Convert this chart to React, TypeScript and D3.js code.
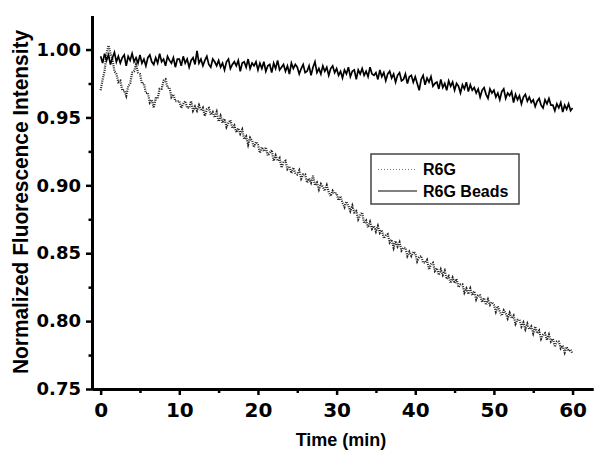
import * as d3 from "d3";
import { useEffect, useRef } from "react";

const chartWidth = 595;
const chartHeight = 454;

// sampling interval of both traces, minutes
const timeStep = 0.25;

// R6G Beads trace (solid), one value every 0.25 min from 0 to 60
const beadsValues = [
  0.995, 0.990, 0.997, 0.992, 0.996, 0.989, 0.994, 0.998, 0.991, 0.995, 0.990, 0.994, 0.996, 0.988, 0.995, 0.992, 0.997, 0.991, 0.994, 0.990,
  0.996, 0.990, 0.993, 0.988, 0.994, 0.996, 0.991, 0.989, 0.994, 0.990, 0.997, 0.991, 0.993, 0.988, 0.995, 0.992, 0.990, 0.994, 0.987, 0.993,
  0.993, 0.988, 0.995, 0.990, 0.993, 0.987, 0.992, 0.994, 0.989, 0.999, 0.990, 0.993, 0.988, 0.992, 0.995, 0.989, 0.987, 0.993, 0.991, 0.988,
  0.992, 0.987, 0.990, 0.985, 0.991, 0.993, 0.986, 0.989, 0.991, 0.988, 0.992, 0.984, 0.990, 0.991, 0.987, 0.993, 0.986, 0.990, 0.988, 0.991,
  0.985, 0.990, 0.986, 0.991, 0.984, 0.988, 0.989, 0.983, 0.990, 0.986, 0.992, 0.985, 0.987, 0.989, 0.984, 0.988, 0.982, 0.990, 0.986, 0.989,
  0.987, 0.982, 0.986, 0.989, 0.983, 0.984, 0.988, 0.981, 0.987, 0.991, 0.983, 0.986, 0.982, 0.988, 0.984, 0.987, 0.981, 0.986, 0.988, 0.983,
  0.986, 0.981, 0.984, 0.979, 0.985, 0.982, 0.987, 0.980, 0.984, 0.985, 0.978, 0.985, 0.982, 0.986, 0.981, 0.984, 0.980, 0.987, 0.982, 0.981,
  0.983, 0.978, 0.985, 0.980, 0.983, 0.977, 0.982, 0.984, 0.979, 0.982, 0.976, 0.981, 0.983, 0.977, 0.978, 0.982, 0.975, 0.980, 0.981, 0.976,
  0.980, 0.975, 0.970, 0.978, 0.981, 0.974, 0.979, 0.976, 0.980, 0.973, 0.975, 0.976, 0.971, 0.978, 0.972, 0.975, 0.970, 0.977, 0.973, 0.976,
  0.970, 0.975, 0.973, 0.968, 0.974, 0.971, 0.976, 0.969, 0.974, 0.970, 0.972, 0.968, 0.971, 0.965, 0.970, 0.972, 0.967, 0.964, 0.971, 0.968,
  0.970, 0.965, 0.968, 0.963, 0.969, 0.971, 0.964, 0.968, 0.966, 0.969, 0.961, 0.967, 0.963, 0.966, 0.960, 0.965, 0.967, 0.962, 0.965, 0.961,
  0.963, 0.958, 0.962, 0.964, 0.959, 0.957, 0.963, 0.960, 0.964, 0.959, 0.959, 0.955, 0.960, 0.957, 0.961, 0.954, 0.959, 0.956, 0.960, 0.955,
  0.957,
];

// R6G trace (dotted), same sampling
const r6gValues = [
  0.970, 0.978, 0.984, 0.997, 1.003, 0.997, 0.993, 0.984, 0.982, 0.976, 0.977, 0.970, 0.970, 0.966, 0.973, 0.975, 0.983, 0.984, 0.989, 0.983,
  0.982, 0.975, 0.975, 0.968, 0.968, 0.961, 0.963, 0.957, 0.964, 0.964, 0.971, 0.971, 0.977, 0.978, 0.972, 0.972, 0.965, 0.967, 0.962, 0.962,
  0.962, 0.957, 0.960, 0.962, 0.957, 0.957, 0.962, 0.955, 0.958, 0.955, 0.959, 0.955, 0.957, 0.951, 0.956, 0.957, 0.952, 0.954, 0.950, 0.954,
  0.947, 0.951, 0.946, 0.949, 0.943, 0.946, 0.948, 0.942, 0.944, 0.939, 0.942, 0.938, 0.941, 0.934, 0.936, 0.930, 0.935, 0.933, 0.928, 0.932,
  0.930, 0.924, 0.928, 0.925, 0.928, 0.922, 0.924, 0.926, 0.918, 0.922, 0.918, 0.920, 0.913, 0.917, 0.918, 0.912, 0.914, 0.909, 0.913, 0.909,
  0.908, 0.911, 0.905, 0.908, 0.908, 0.902, 0.905, 0.902, 0.907, 0.900, 0.902, 0.897, 0.901, 0.899, 0.896, 0.900, 0.895, 0.892, 0.896, 0.894,
  0.894, 0.889, 0.892, 0.887, 0.884, 0.888, 0.885, 0.881, 0.885, 0.880, 0.881, 0.875, 0.878, 0.880, 0.872, 0.874, 0.869, 0.873, 0.868, 0.870,
  0.866, 0.870, 0.865, 0.867, 0.861, 0.863, 0.864, 0.858, 0.860, 0.854, 0.859, 0.855, 0.858, 0.852, 0.854, 0.854, 0.848, 0.851, 0.848, 0.851,
  0.850, 0.844, 0.847, 0.848, 0.843, 0.843, 0.845, 0.838, 0.842, 0.843, 0.837, 0.839, 0.834, 0.838, 0.834, 0.837, 0.831, 0.833, 0.828, 0.832,
  0.828, 0.831, 0.825, 0.827, 0.827, 0.821, 0.824, 0.820, 0.824, 0.819, 0.822, 0.816, 0.819, 0.819, 0.814, 0.817, 0.812, 0.816, 0.812, 0.814,
  0.812, 0.807, 0.811, 0.807, 0.804, 0.808, 0.806, 0.802, 0.806, 0.802, 0.804, 0.798, 0.801, 0.801, 0.796, 0.799, 0.794, 0.798, 0.794, 0.796,
  0.791, 0.796, 0.791, 0.793, 0.787, 0.790, 0.791, 0.786, 0.790, 0.785, 0.787, 0.781, 0.785, 0.785, 0.780, 0.782, 0.777, 0.781, 0.778, 0.779,
  0.776,
];

const xTicks = [0, 10, 20, 30, 40, 50, 60];
const xMinorTicks = [5, 15, 25, 35, 45, 55];
const yTicks = [0.75, 0.8, 0.85, 0.9, 0.95, 1.0];
const yMinorTicks = [0.775, 0.825, 0.875, 0.925, 0.975];

const seriesNames = ["R6G", "R6G Beads"];

export default function App() {
  const svgRef = useRef<SVGSVGElement | null>(null);

  useEffect(() => {
    const svg = d3.select(svgRef.current);
    svg.selectAll("*").remove();

    const x = d3.scaleLinear().domain([-1.1, 62.6]).range([92, 593]);
    const y = d3.scaleLinear().domain([0.75, 1.025]).range([389, 15.6]);

    const line = d3
      .line<number>()
      .x((_, i) => x(i * timeStep))
      .y((d) => y(d));

    // data traces
    svg
      .append("path")
      .datum(r6gValues)
      .attr("d", line)
      .attr("fill", "none")
      .attr("stroke", "#222")
      .attr("stroke-width", 2.2)
      .attr("stroke-dasharray", "1,1.2");

    svg
      .append("path")
      .datum(beadsValues)
      .attr("d", line)
      .attr("fill", "none")
      .attr("stroke", "#000")
      .attr("stroke-width", 1.7);

    // axes
    const styleAxis = (g, fontSize) => {
      g.select(".domain").attr("stroke-width", 3).attr("stroke", "#000");
      g.selectAll(".tick line").attr("stroke-width", 2.5).attr("stroke", "#000");
      g.selectAll(".tick text")
        .attr("fill", "#000")
        .style("font-family", "'DejaVu Sans', sans-serif")
        .style("font-weight", "700")
        .style("font-size", `${fontSize}px`);
    };

    svg
      .append("g")
      .attr("transform", `translate(0, ${y(0.75)})`)
      .call(d3.axisBottom(x).tickValues(xMinorTicks).tickSize(4).tickSizeOuter(0).tickFormat(() => ""))
      .call((g) => styleAxis(g, 20));

    svg
      .append("g")
      .attr("transform", `translate(0, ${y(0.75)})`)
      .call(
        d3
          .axisBottom(x)
          .tickValues(xTicks)
          .tickSize(6)
          .tickPadding(8)
          .tickSizeOuter(0)
          .tickFormat(d3.format("d")),
      )
      .call((g) => styleAxis(g, 20));

    svg
      .append("g")
      .attr("transform", `translate(${x(-1.1)}, 0)`)
      .call(d3.axisLeft(y).tickValues(yMinorTicks).tickSize(3.5).tickSizeOuter(0).tickFormat(() => ""))
      .call((g) => styleAxis(g, 18));

    svg
      .append("g")
      .attr("transform", `translate(${x(-1.1)}, 0)`)
      .call(
        d3
          .axisLeft(y)
          .tickValues(yTicks)
          .tickSize(6)
          .tickPadding(5)
          .tickSizeOuter(0)
          .tickFormat(d3.format(".2f")),
      )
      .call((g) => styleAxis(g, 18));

    // axis titles
    svg
      .append("text")
      .attr("x", 341)
      .attr("y", 446)
      .attr("text-anchor", "middle")
      .style("font-family", "'Liberation Sans', Arial, sans-serif")
      .style("font-weight", "700")
      .style("font-size", "18px")
      .text("Time (min)");

    svg
      .append("text")
      .attr("transform", "translate(28, 202) rotate(-90)")
      .attr("text-anchor", "middle")
      .attr("textLength", 344)
      .attr("lengthAdjust", "spacingAndGlyphs")
      .style("font-family", "'Liberation Sans', Arial, sans-serif")
      .style("font-weight", "700")
      .style("font-size", "22px")
      .text("Normalized Fluorescence Intensity");

    // legend
    const legend = svg.append("g").attr("transform", "translate(371, 154)");
    legend
      .append("rect")
      .attr("width", 148)
      .attr("height", 50)
      .attr("fill", "#fff")
      .attr("stroke", "#444")
      .attr("stroke-width", 1.5);

    seriesNames.forEach((name, i) => {
      const rowY = 15.5 + i * 21.5;
      legend
        .append("line")
        .attr("x1", 7)
        .attr("x2", 46)
        .attr("y1", rowY)
        .attr("y2", rowY)
        .attr("stroke", i === 0 ? "#777" : "#000")
        .attr("stroke-width", 1)
        .attr("stroke-dasharray", i === 0 ? "1,2" : null);
      legend
        .append("text")
        .attr("x", 52)
        .attr("y", rowY + 5.5)
        .style("font-family", "'Liberation Sans', Arial, sans-serif")
        .style("font-weight", "700")
        .style("font-size", "16px")
        .text(name);
    });
  }, []);

  return (
    <svg
      ref={svgRef}
      width={chartWidth}
      height={chartHeight}
      style={{ position: "absolute", left: 0, top: 0, background: "#fff" }}
    ></svg>
  );
}
